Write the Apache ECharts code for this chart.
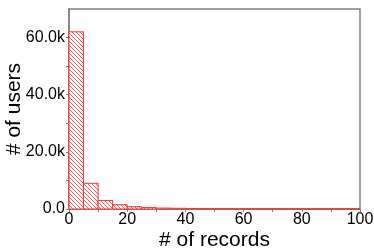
<!DOCTYPE html>
<html>
<head>
<meta charset="utf-8">
<script src="https://cdn.jsdelivr.net/npm/echarts@6/dist/echarts.min.js"></script>
<style>
html,body{margin:0;padding:0;background:#fff;}
#chart{width:374px;height:250px;}
</style>
</head>
<body>
<div id="chart"></div>
<script>
// Histogram bins (# of records), bin width 5
const binStarts = [0,5,10,15,20,25,30,35,40,45,50,55,60,65,70,75,80,85,90,95];
const binWidth = 5;
const counts = [62000,9000,3000,1500,800,500,320,250,160,130,110,90,70,55,45,35,28,22,16,12];
const xTicks = [0,20,40,60,80,100];
const yTickLabels = {0:'0.0',20000:'20.0k',40000:'40.0k',60000:'60.0k'};

// hatch pattern
const pc = document.createElement('canvas');
pc.width = 4; pc.height = 4;
const ctx = pc.getContext('2d');
ctx.fillStyle = '#ffffff';
ctx.fillRect(0,0,4,4);
ctx.strokeStyle = 'rgba(255,60,60,0.85)';
ctx.lineWidth = 1;
ctx.beginPath();
ctx.moveTo(-1,-1); ctx.lineTo(5,5);
ctx.moveTo(-1,3); ctx.lineTo(1,5);
ctx.moveTo(3,-1); ctx.lineTo(5,1);
ctx.stroke();

const data = binStarts.map((s,i)=>[s, s+binWidth, counts[i]]);

const chart = echarts.init(document.getElementById('chart'), null, {renderer:'canvas'});
const axisCol = '#808080';
const font = 'Liberation Sans, Arial, sans-serif';
chart.setOption({
  animation:false,
  grid:{left:69,right:14,top:9,bottom:41,show:true,borderColor:axisCol,borderWidth:1.5,
    containLabel:false,outerBoundsMode:'none'},
  xAxis:{
    type:'value',min:0,max:100,interval:10,
    name:'# of records',nameLocation:'middle',nameGap:21,nameMoveOverlap:false,
    nameTextStyle:{fontSize:21,color:'#000',fontFamily:font},
    axisLine:{show:true,lineStyle:{color:axisCol,width:1.5}},
    axisTick:{show:true,length:3,lineStyle:{color:axisCol}},
    axisLabel:{fontSize:16,color:'#000',fontFamily:font,margin:3,
      formatter:v=> xTicks.includes(v)? String(v):''},
    splitLine:{show:false}
  },
  yAxis:{
    type:'value',min:0,max:70000,interval:10000,
    name:'# of users',nameLocation:'middle',nameGap:44,nameMoveOverlap:false,
    nameTextStyle:{fontSize:21,color:'#000',fontFamily:font},
    axisLine:{show:true,lineStyle:{color:axisCol,width:1.5}},
    axisTick:{show:true,length:3,lineStyle:{color:axisCol}},
    axisLabel:{fontSize:16,color:'#000',fontFamily:font,margin:4,showMaxLabel:false,
      formatter:v=> yTickLabels[v]!==undefined? yTickLabels[v]:''},
    splitLine:{show:false}
  },
  series:[{
    type:'custom',
    data:data,
    renderItem:function(params,api){
      const p0 = api.coord([api.value(0),0]);
      const p1 = api.coord([api.value(1),api.value(2)]);
      return {
        type:'rect',
        shape:{x:p0[0],y:p1[1],width:p1[0]-p0[0],height:p0[1]-p1[1]},
        style:{fill:{image:pc,repeat:'repeat'},stroke:'#ff3030',lineWidth:1}
      };
    }
  }]
});
</script>
</body>
</html>
